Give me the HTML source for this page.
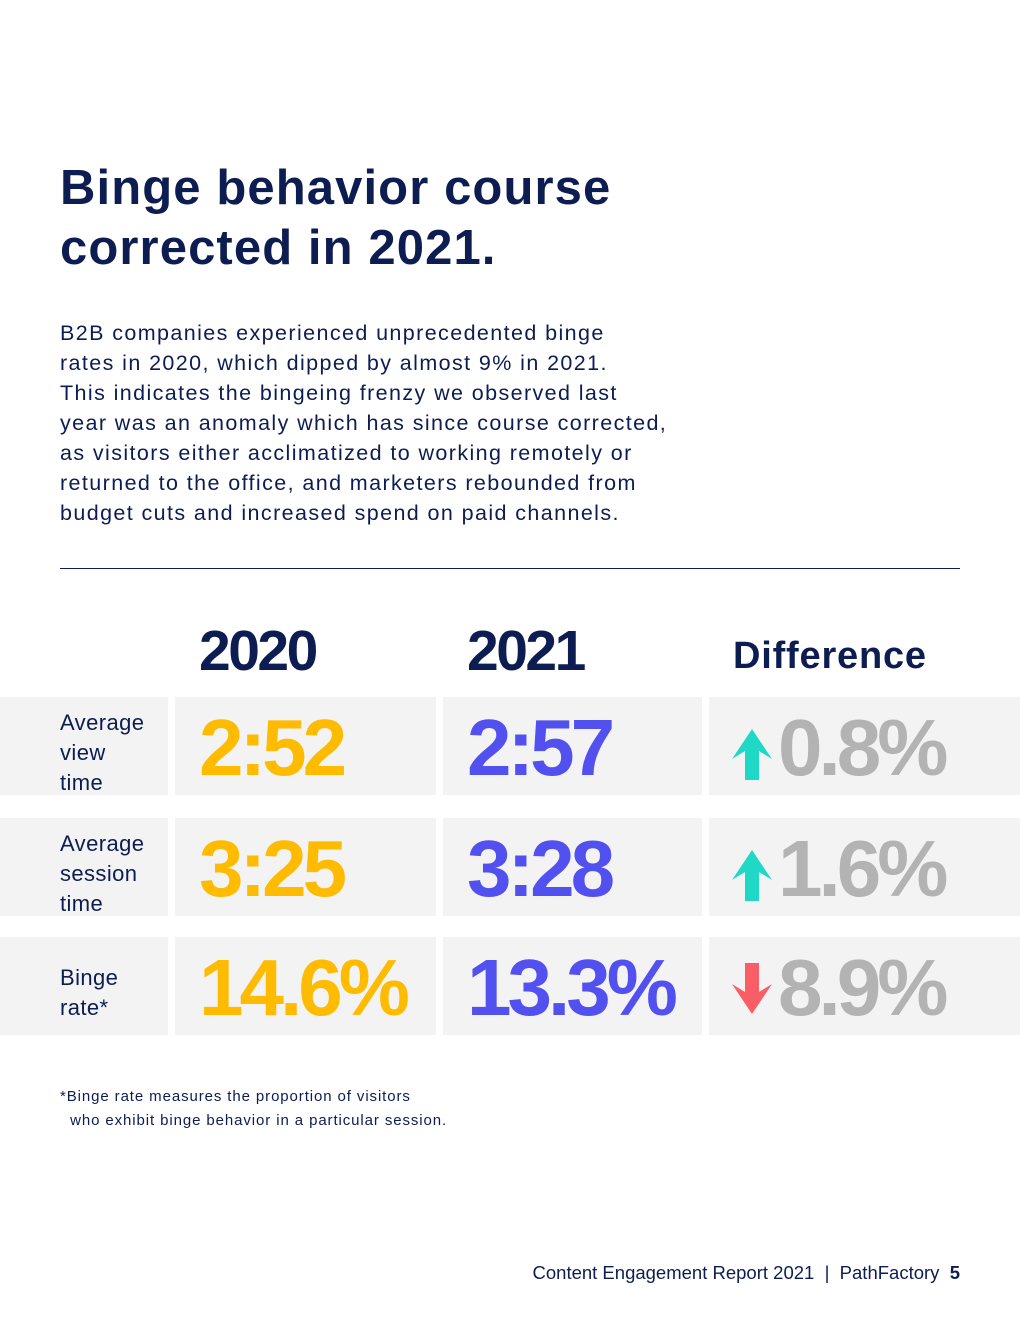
<!DOCTYPE html>
<html><head><meta charset="utf-8"><style>
body{margin:0;width:1020px;height:1320px;background:#fff;font-family:"Liberation Sans",sans-serif;color:#0d1d52;position:relative;overflow:hidden}
.abs{position:absolute}
h1{position:absolute;left:60px;top:158px;margin:0;font-size:49px;line-height:60px;font-weight:bold;letter-spacing:1.1px}
.para{left:60px;top:318px;font-size:21.5px;line-height:30px;letter-spacing:1.4px}
.cell{position:absolute;background:#f3f3f3}
.lab{font-size:22px;line-height:30px;letter-spacing:0.4px}
.big{font-weight:bold;font-size:80px;letter-spacing:-4px;line-height:98px;position:absolute}
.hdr{font-weight:bold;position:absolute}
</style></head><body>
<h1>Binge behavior course<br>corrected in 2021.</h1>
<div class="abs para">B2B companies experienced unprecedented binge<br>rates in 2020, which dipped by almost 9% in 2021.<br>This indicates the bingeing frenzy we observed last<br>year was an anomaly which has since course corrected,<br>as visitors either acclimatized to working remotely or<br>returned to the office, and marketers rebounded from<br>budget cuts and increased spend on paid channels.</div>
<div class="abs" style="left:60px;top:568px;width:900px;height:1px;background:#0d1d52"></div>
<div class="hdr" style="left:199px;top:618px;font-size:57px;letter-spacing:-2.5px">2020</div>
<div class="hdr" style="left:467px;top:618px;font-size:57px;letter-spacing:-2.5px">2021</div>
<div class="hdr" style="left:733px;top:635px;font-size:38px;letter-spacing:0.8px">Difference</div>
<div id="table"></div>
<div class="abs" style="left:60px;top:1085px;font-size:15px;line-height:24px;letter-spacing:0.9px">*Binge rate measures the proportion of visitors<br>&nbsp;&nbsp;who exhibit binge behavior in a particular session.</div>
<div class="abs" style="right:60px;top:1262px;font-size:18.5px;letter-spacing:0px">Content Engagement Report 2021&nbsp; | &nbsp;PathFactory&nbsp; <b>5</b></div>
<script>
const metrics=["Average<br>view<br>time","Average<br>session<br>time","Binge<br>rate*"];
const values2020=["2:52","3:25","14.6%"];
const values2021=["2:57","3:28","13.3%"];
const diffs=["0.8%","1.6%","8.9%"];
const diffDir=["up","up","down"];
const rowTops=[697,818,937];
const t=document.getElementById('table');
function cell(x,w,y,name){const c=document.createElement('div');c.className='cell';c.style.cssText=`left:${x}px;top:${y}px;width:${w}px;height:98px`;


t.appendChild(c);return c;}
metrics.forEach((m,i)=>{const y=rowTops[i];
const n=m.split('<br>').length;
const a=cell(0,168,y,'metric-label-cell');a.innerHTML=`<div class="lab" style="position:absolute;left:60px;top:${n==3?11:26}px">${m}</div>`;
const b=cell(175,261,y,'value-2020-cell');b.innerHTML=`<div class="big" style="left:24px;top:2px;color:#ffbb00">${values2020[i]}</div>`;
const c=cell(443,259,y,'value-2021-cell');c.innerHTML=`<div class="big" style="left:24px;top:2px;color:#5350f0">${values2021[i]}</div>`;
const d=cell(709,311,y,'difference-cell');
const up=diffDir[i]=='up';const col=up?'#1fd9c6':'#f95e66';
const arrow=up?'<polygon points="20,0 40,30 27,22 27,51 13,51 13,22 0,30" fill="'+col+'"/>':'<polygon points="13,0 27,0 27,29 40,21 20,51 0,21 13,29" fill="'+col+'"/>';
d.innerHTML=`<svg style="position:absolute;left:23px;top:${up?32:26}px" width="40" height="51">${arrow}</svg><div class="big" style="left:69px;top:2px;color:#b3b3b3">${diffs[i]}</div>`;
});
</script>
</body></html>
